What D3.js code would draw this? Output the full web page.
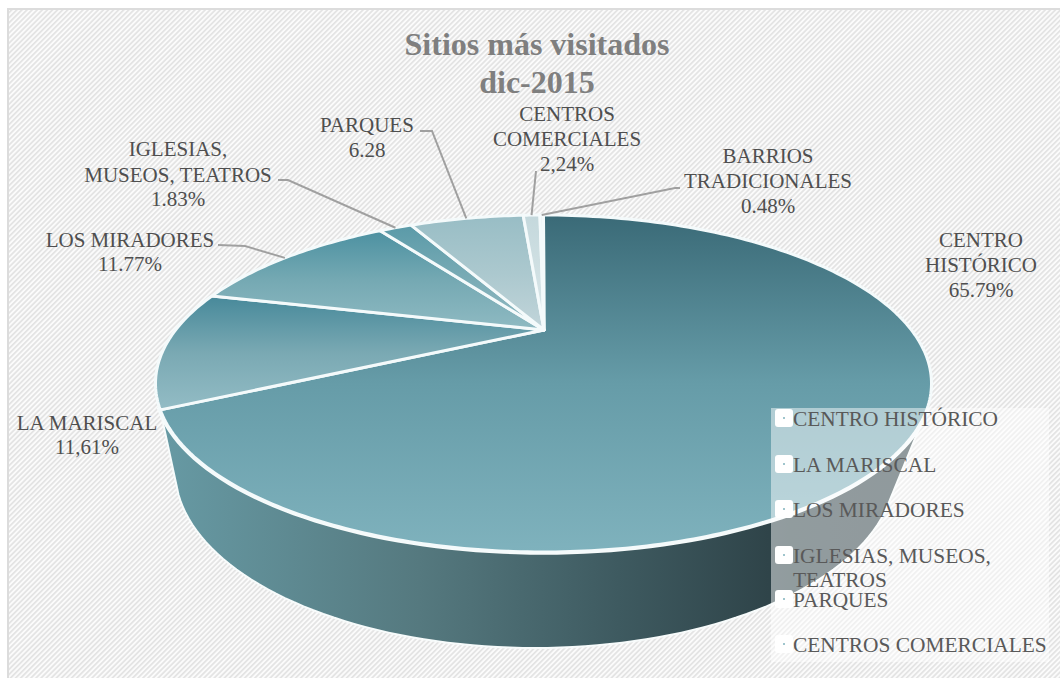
<!DOCTYPE html>
<html>
<head>
<meta charset="utf-8">
<script src="https://cdn.jsdelivr.net/npm/d3@7"></script>
<style>
  html, body { margin: 0; padding: 0; background: #fff; }
  svg { display: block; }
  text { font-family: "Liberation Serif", serif; }
</style>
</head>
<body>
<div id="chart"></div>
<script>
// datos
const categories = ["CENTRO HISTÓRICO", "LA MARISCAL", "LOS MIRADORES", "IGLESIAS, MUSEOS, TEATROS", "PARQUES", "CENTROS COMERCIALES", "BARRIOS TRADICIONALES"];
const values = [65.79, 11.61, 11.77, 1.83, 6.28, 2.24, 0.48];
const valueLabels = ["65.79%", "11,61%", "11.77%", "1.83%", "6.28", "2,24%", "0.48%"];
const titleLines = ["Sitios más visitados", "dic-2015"];
const legendItems = ["CENTRO HISTÓRICO", "LA MARISCAL", "LOS MIRADORES", "IGLESIAS, MUSEOS, TEATROS", "PARQUES", "CENTROS COMERCIALES"];

const width = 1060, height = 678;

// estilos de cada sector (arriba, abajo)
const sliceColors = [
  ["#3a6a77", "#669ca8", "#7fb2bd"],
  ["#47899a", "#7aa9b3", "#93bcc5"],
  ["#4c91a1", "#75a9b3", "#8fbac2"],
  ["#5a9aa8", "#79abb5", "#93bbc3"],
  ["#98bdc5", "#abc8ce", "#c2d5da"],
  ["#c4d8dc", "#d0e0e3", "#dde8ea"],
  ["#e6eff1", "#ecf3f4", "#f2f6f7"]
];

// etiquetas: posicion en pantalla
const labelLayout = [
  { x: 981, y: [247, 272, 297], lines: ["CENTRO", "HISTÓRICO"] },
  { x: 87, y: [430, 454], lines: ["LA MARISCAL"] },
  { x: 130, y: [247, 271], lines: ["LOS MIRADORES"], leader: [[218, 245], [245, 246]] },
  { x: 178, y: [156, 182, 206], lines: ["IGLESIAS,", "MUSEOS, TEATROS"], leader: [[278, 180], [288, 180]] },
  { x: 367, y: [132, 157], lines: ["PARQUES"], leader: [[420, 131], [432, 131]] },
  { x: 567, y: [121, 146, 171], lines: ["CENTROS", "COMERCIALES"], leader: [[536, 171]] },
  { x: 768, y: [163, 188, 213], lines: ["BARRIOS", "TRADICIONALES"], leader: [[680, 188], [675, 188]] }
];

// geometria de la tarta en perspectiva
const apex = { x: 544, y: 330 };
const top3d = { cx: 543.5, cy: 383.5, rx: 388, ry: 168.5 };
const bottom3d = { cx: 535, cy: 470, rx: 360, ry: 178 };

// angulo del dato -> angulo sobre la elipse (calibrado con la perspectiva)
const perspective = d3.scaleLinear()
  .domain([0, 65.79, 77.4, 89.17, 97.28, 100].map(p => p * Math.PI / 50))
  .range([0, 261, 301.3, 335.1, 357, 360].map(a => a * Math.PI / 180));

const rad = a => a * Math.PI / 180;
const onEllipse = (e, phi) => [e.cx + e.rx * Math.sin(phi), e.cy - e.ry * Math.cos(phi)];

const svg = d3.select("#chart").append("svg")
  .attr("width", width)
  .attr("height", height);
const defs = svg.append("defs");

// fondo rayado
const hatch = defs.append("pattern")
  .attr("id", "hatch")
  .attr("patternUnits", "userSpaceOnUse")
  .attr("width", 3.6)
  .attr("height", 3.6)
  .attr("patternTransform", "rotate(-45)");
hatch.append("rect").attr("width", 3.6).attr("height", 3.6).attr("fill", "#fbfbfb");
hatch.append("rect").attr("width", 3.6).attr("height", 1.7).attr("fill", "#e3e3e3");

svg.append("rect")
  .attr("x", 8).attr("y", 9)
  .attr("width", width).attr("height", height)
  .attr("fill", "url(#hatch)")
  .attr("stroke", "#dcdcdc")
  .attr("stroke-width", 2);

// pared lateral
const wallGrad = defs.append("linearGradient")
  .attr("id", "wall-grad")
  .attr("gradientUnits", "userSpaceOnUse")
  .attr("x1", 160).attr("x2", 900).attr("y1", 0).attr("y2", 0);
[[0, "#679aa4"], [0.35, "#55797f"], [0.62, "#3e5a60"], [0.85, "#2d4146"], [1, "#2b3e43"]].forEach(s => {
  wallGrad.append("stop").attr("offset", s[0]).attr("stop-color", s[1]);
});

const line = d3.line().curve(d3.curveLinear);
const wallPoints = [onEllipse(top3d, rad(261))]
  .concat(d3.range(262, 99, -2).map(a => onEllipse(bottom3d, rad(a))))
  .concat([onEllipse(top3d, rad(99))]);

svg.append("path")
  .attr("d", line(wallPoints) + "Z")
  .attr("fill", "url(#wall-grad)")
  .attr("stroke", "#f7fbfb")
  .attr("stroke-width", 2);

// reborde blanco delante de la pared
svg.append("path")
  .attr("d", line(d3.range(262, 97, -2).map(a => onEllipse(top3d, rad(a)))))
  .attr("fill", "none")
  .attr("stroke", "#f7fbfb")
  .attr("stroke-width", 5.5);

// sectores
const pie = d3.pie().sort(null).value(d => d)
  .startAngle(0).endAngle(2 * Math.PI);
const arcs = pie(values);

const slicePath = d => {
  const n = Math.max(2, Math.ceil((d.endAngle - d.startAngle) * 60));
  const pts = d3.range(n + 1).map(i => {
    const t = d.startAngle + (d.endAngle - d.startAngle) * i / n;
    return onEllipse(top3d, perspective(t));
  });
  return line([[apex.x, apex.y]].concat(pts)) + "Z";
};

arcs.forEach((d, i) => {
  const g = defs.append("linearGradient")
    .attr("id", "slice-" + i)
    .attr("x1", 0).attr("x2", 0).attr("y1", 0).attr("y2", 1);
  sliceColors[i].forEach((c, k) => {
    g.append("stop").attr("offset", k / 2).attr("stop-color", c);
  });
});

svg.selectAll(".slice")
  .data(arcs)
  .enter()
  .append("path")
  .attr("class", "slice")
  .attr("d", slicePath)
  .attr("fill", (d, i) => `url(#slice-${i})`)
  .attr("stroke", "#f4fafb")
  .attr("stroke-width", 3)
  .attr("stroke-linejoin", "round");

// lineas guia hasta el punto medio del arco
const leaderColor = "#a0a0a0";
arcs.forEach((d, i) => {
  const lay = labelLayout[i];
  if (!lay.leader) return;
  const mid = onEllipse(top3d, perspective((d.startAngle + d.endAngle) / 2));
  svg.append("path")
    .attr("d", line(lay.leader.concat([mid])))
    .attr("fill", "none")
    .attr("stroke", leaderColor)
    .attr("stroke-width", 2);
});

// etiquetas
const labelG = svg.append("g")
  .attr("text-anchor", "middle")
  .style("font-size", "21px")
  .style("fill", "#4f4f4f");

labelLayout.forEach((lay, i) => {
  lay.lines.concat([valueLabels[i]]).forEach((txt, k) => {
    labelG.append("text")
      .attr("x", lay.x)
      .attr("y", lay.y[k])
      .text(txt);
  });
});

// la caja del titulo tapa la parte alta de "CENTROS"
svg.append("rect")
  .attr("x", 400).attr("y", 20)
  .attr("width", 280).attr("height", 87)
  .attr("fill", "url(#hatch)");

svg.append("g")
  .attr("text-anchor", "middle")
  .style("font-size", "32px")
  .style("font-weight", "bold")
  .style("fill", "#7f7f7f")
  .selectAll("text")
  .data(titleLines)
  .enter()
  .append("text")
  .attr("x", 537)
  .attr("y", (d, i) => 55 + i * 38)
  .text(d => d);

// leyenda
const legendY = [426, 472, 517, 563, 607, 652];
const legend = svg.append("g");

legend.append("rect")
  .attr("x", 771).attr("y", 408)
  .attr("width", 278).attr("height", 254)
  .attr("fill", "#fff")
  .attr("fill-opacity", 0.48);

legendItems.forEach((name, i) => {
  legend.append("rect")
    .attr("x", 775).attr("y", legendY[i] - 17)
    .attr("width", 18).attr("height", 18)
    .attr("rx", 3)
    .attr("fill", "#fff");
  legend.append("circle")
    .attr("cx", 784).attr("cy", legendY[i] - 8)
    .attr("r", 1)
    .attr("fill", "#7fb2bd");

  const parts = name === "IGLESIAS, MUSEOS, TEATROS" ? ["IGLESIAS, MUSEOS,", "TEATROS"] : [name];
  parts.forEach((p, k) => {
    legend.append("text")
      .attr("x", 793)
      .attr("y", legendY[i] + k * 24)
      .style("font-size", "21.4px")
      .style("fill", "#595959")
      .text(p);
  });
});
</script>
</body>
</html>
